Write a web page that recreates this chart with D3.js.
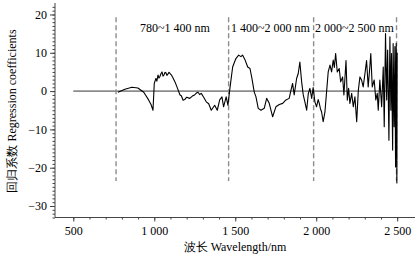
<!DOCTYPE html>
<html><head><meta charset="utf-8">
<script src="https://cdn.jsdelivr.net/npm/d3@7/dist/d3.min.js"></script>
<style>
html,body{margin:0;padding:0;background:#fff;}
svg{display:block;}
text{font-family:"Liberation Serif","Times New Roman",serif;fill:#000;}
</style></head>
<body>
<svg id="c" width="420" height="265"></svg>
<script>
// ---- data ----
const wavelength = [776,819,862,899,935,965,980,992,1000,1010,1016,1023,1029,1035,1042,1048,1054,1060,1066,1072,1078,1085,1091,1097,1106,1115,1128,1140,1159,1167,1178,1188,1200,1219,1235,1249,1260,1270,1280,1290,1305,1321,1336,1352,1373,1389,1404,1418,1428,1444,1455,1467,1484,1504,1521,1535,1545,1561,1577,1591,1603,1617,1628,1642,1659,1679,1694,1710,1731,1751,1772,1793,1813,1833,1844,1854,1864,1879,1889,1899,1910,1920,1930,1941,1951,1961,1972,1981,1992,2002,2012,2019,2026,2033,2043,2054,2064,2074,2085,2095,2105,2112,2120,2130,2142,2151,2163,2171,2184,2192,2200,2208,2219,2229,2239,2250,2260,2270,2280,2290,2301,2311,2321,2331,2337,2346,2358,2368,2377,2383,2393,2404,2414,2420,2428,2435,2441,2449,2455,2461,2465,2472,2475,2481,2486,2490,2494,2498,2500];
const coefficient = [-0.3,0.5,1.0,0.8,-0.3,-2.3,-3.5,-5,2,3.3,2.6,4.2,3.4,3.8,4.6,5,3.9,4.2,4.9,4.8,4.1,4.5,4.9,4.6,4.2,3.5,2.4,1.1,-1,-1.2,-2.4,-2.2,-1.6,-1.9,-1.3,-1,-0.5,-0.3,-0.9,-0.6,-1.6,-2.8,-3.3,-5,-3.7,-5,-2.3,-1.5,-4.1,-1.5,-3.7,0.7,6.3,8.5,9.4,9,9.4,8.1,6.3,5.9,3.3,-0.2,-1.5,-4.5,-5,-4.5,-1.9,-3.2,-6.7,-4.1,-3.5,-3.2,-2.3,-1.9,0.2,2,-1,3.3,4.6,7.6,2.4,-1,-2.8,-5,-0.7,0.7,-1.9,0.9,-2.8,-4.1,-2.2,-3.2,-4.6,-5.4,-8,-5.4,-0.2,5,6.8,5,8.1,6.2,9.8,5,5.9,2.4,3.7,-1,8,-2.4,0.7,-3.2,-0.6,-4.1,-1.5,-8,0.2,3.7,2.9,1.1,4.6,8,1.1,6.3,9.8,1.1,2.9,-2.3,-0.6,-5,2.9,-4.1,6.3,-9.3,15,-2.3,10.7,-12.8,14.2,-5,9.8,-15.4,12.4,-9.3,11.6,-19.8,12.4,-24,10];
const zeroLine = [500, 2500];
const regionBounds = [764, 1459, 1984, 2496];
const regionLabels = ["780~1 400 nm", "1 400~2 000 nm", "2 000~2 500 nm"];
const xTicks = [500, 1000, 1500, 2000, 2500];
const xTickLabels = ["500", "1 000", "1 500", "2 000", "2 500"];
const yTicks = [20, 10, 0, -10, -20, -30];
const xTitle = "波长  Wavelength/nm";
const yTitle = "回归系数  Regression coefficients";

// ---- layout ----
const svg = d3.select("#c");
const x = d3.scaleLinear().domain([387, 2610]).range([55, 415]);
const y = d3.scaleLinear().domain([-33, 23]).range([217.5, 3]);

// zero line
svg.append("line")
  .attr("x1", x(zeroLine[0])).attr("x2", x(zeroLine[1]))
  .attr("y1", y(0)).attr("y2", y(0))
  .attr("stroke", "#8c8c8c").attr("stroke-width", 1.6);

// dashed region lines
svg.selectAll("line.div").data(regionBounds).enter().append("line")
  .attr("class", "div")
  .attr("x1", d => x(d)).attr("x2", d => x(d))
  .attr("y1", y(19.3)).attr("y2", y(-23.5))
  .attr("stroke", "#8c8c8c").attr("stroke-width", 1.4)
  .attr("stroke-dasharray", "5,3");

// region labels
const labelX = [140, 231, 315];
svg.selectAll("text.reg").data(regionLabels).enter().append("text")
  .attr("class", "reg")
  .attr("x", (d, i) => labelX[i]).attr("y", 32)
  .attr("font-size", 12)
  .text(d => d);

// data line
const pts = wavelength.map((w, i) => [w, coefficient[i]]);
svg.append("path")
  .datum(pts)
  .attr("fill", "none").attr("stroke", "#000").attr("stroke-width", 1.1)
  .attr("stroke-linejoin", "round")
  .attr("d", d3.line().x(d => x(d[0])).y(d => y(d[1])));

// axes
const axColor = "#444";
const gx = svg.append("g").attr("transform", `translate(0,${y(-33)})`);
gx.call(d3.axisBottom(x).tickValues(d3.range(500, 2501, 100)).tickSize(2).tickFormat(""));
gx.call(g => g.append("g").call(d3.axisBottom(x).tickValues(xTicks).tickSize(4)
      .tickFormat((d, i) => xTickLabels[i])));
gx.selectAll(".domain").remove();
gx.append("line").attr("x1", 55).attr("x2", 415).attr("y1", 0).attr("y2", 0).attr("stroke", axColor);
gx.selectAll("line").attr("stroke", axColor);
gx.selectAll("text").attr("font-size", 12).attr("font-family", "Liberation Serif").attr("fill", "#000")
  .attr("y", 9).attr("dy", "0.71em");

const gy = svg.append("g").attr("transform", `translate(55,0)`);
gy.call(d3.axisLeft(y).tickValues(d3.range(-33, 23, 1)).tickSize(2.5).tickFormat(""));
gy.call(g => g.append("g").call(d3.axisLeft(y).tickValues(yTicks).tickSize(5)
      .tickFormat(d => d < 0 ? "\u2212" + Math.abs(d) : d)));
gy.selectAll(".domain").remove();
gy.append("line").attr("x1", 0).attr("x2", 0).attr("y1", 3).attr("y2", y(-33)).attr("stroke", axColor);
gy.selectAll("line").attr("stroke", axColor);
gy.selectAll("text").attr("font-size", 12).attr("font-family", "Liberation Serif").attr("fill", "#000")
  .attr("x", -8);

// titles
svg.append("text").attr("x", 235).attr("y", 251).attr("text-anchor", "middle")
  .attr("font-size", 12).text(xTitle);
svg.append("text").attr("transform", "translate(16,111) rotate(-90)").attr("text-anchor", "middle")
  .attr("font-size", 12).text(yTitle);
</script>
</body></html>
